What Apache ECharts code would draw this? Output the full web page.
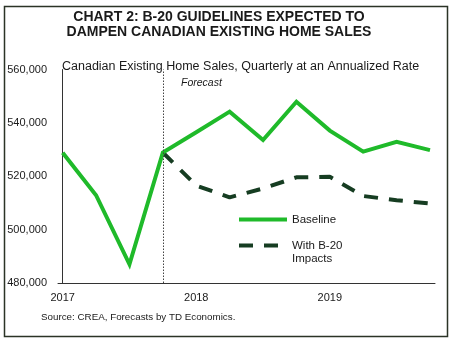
<!DOCTYPE html>
<html>
<head>
<meta charset="utf-8">
<script src="https://cdn.jsdelivr.net/npm/echarts@6/dist/echarts.min.js"></script>
<style>html,body{margin:0;padding:0;background:#fff;}#c{width:450px;height:339px;}</style>
</head>
<body>
<div id="c"></div>
<script>
const quarters = ['2017 Q1','2017 Q2','2017 Q3','2017 Q4','2018 Q1','2018 Q2','2018 Q3','2018 Q4','2019 Q1','2019 Q2','2019 Q3','2019 Q4'];
const baseline = [528800, 512900, 487000, 528900, 536500, 544200, 533600, 547900, 537100, 529200, 532900, 529800];
const withB20 = [null, null, null, 528900, 516500, 512100, 515400, 519600, 519800, 512600, 511000, 509800];
const yearLabelIndex = [0, 4, 8];
const forecastStartIndex = 3;
const yTicks = { min: 480000, max: 560000, step: 20000 };

const font = "Arial";
const toPairs = arr => arr.map((v, i) => [i, v]);

const chart = echarts.init(document.getElementById('c'), null, { renderer: 'canvas' });
chart.setOption({
  animation: false,
  backgroundColor: '#fff',
  title: [
    {
      text: 'CHART 2: B-20 GUIDELINES EXPECTED TO\nDAMPEN CANADIAN EXISTING HOME SALES',
      left: 219, top: 9, padding: 0, textAlign: 'center',
      textStyle: { fontFamily: font, fontSize: 14, fontWeight: 'bold', color: '#1a1a1a', lineHeight: 15.6 }
    },
    {
      text: 'Canadian Existing Home Sales, Quarterly at an Annualized Rate',
      left: 62, top: 60.5, padding: 0,
      textStyle: { fontFamily: font, fontSize: 12.5, fontWeight: 'normal', color: '#1a1a1a' }
    },
    {
      text: 'Source: CREA, Forecasts by TD Economics.',
      left: 41, top: 312.5, padding: 0,
      textStyle: { fontFamily: font, fontSize: 9.8, fontWeight: 'normal', color: '#1a1a1a' }
    }
  ],
  grid: { left: 58, right: 15, top: 69.5, bottom: 56, containLabel: false },
  xAxis: {
    type: 'value', min: -0.14, max: 11.15,
    axisLine: { show: true, onZero: false, lineStyle: { color: '#333', width: 1 } },
    axisTick: { show: false },
    splitLine: { show: false },
    axisLabel: {
      customValues: yearLabelIndex,
      formatter: v => quarters[Math.round(v)].slice(0, 4),
      fontFamily: font, fontSize: 11, color: '#1a1a1a', margin: 9
    }
  },
  yAxis: {
    type: 'value', min: yTicks.min, max: yTicks.max, interval: yTicks.step,
    axisLine: { show: true, lineStyle: { color: '#333', width: 1 } },
    axisTick: { show: false },
    splitLine: { show: false },
    axisLabel: {
      formatter: v => v.toLocaleString('en-US'),
      fontFamily: font, fontSize: 11, color: '#1a1a1a', margin: 11
    }
  },
  legend: {
    orient: 'vertical', left: 237, top: 213, padding: 0,
    itemWidth: 48, itemHeight: 14, itemGap: 0,
    itemStyle: { opacity: 0 },
    lineStyle: { width: 4 },
    data: ['Baseline', 'With B-20 Impacts'],
    formatter: n => n === 'With B-20 Impacts' ? '\nWith B-20\nImpacts' : n,
    textStyle: { fontFamily: font, fontSize: 11.5, color: '#1a1a1a', lineHeight: 13 }
  },
  series: [
    {
      name: 'Baseline', type: 'line', data: toPairs(baseline),
      symbol: 'none', showSymbol: false,
      lineStyle: { color: '#1fba2a', width: 4, join: 'miter' },
      itemStyle: { color: '#1fba2a' },
      z: 3,
      markLine: {
        silent: true, symbol: 'none',
        label: { show: false },
        lineStyle: { color: '#444', width: 1, type: [1.5, 1.5] },
        data: [{ xAxis: forecastStartIndex }]
      }
    },
    {
      name: 'With B-20 Impacts', type: 'line', data: toPairs(withB20),
      symbol: 'none', showSymbol: false, connectNulls: false,
      lineStyle: { color: '#163d22', width: 4, type: [14, 11], cap: 'butt' },
      itemStyle: { color: '#163d22' },
      z: 2
    }
  ],
  graphic: [
    {
      type: 'text', left: 181, top: 78,
      style: { text: 'Forecast', fontFamily: font, fontSize: 10.5, fontStyle: 'italic', fill: '#1a1a1a' }
    },
    {
      type: 'rect', left: 2, top: 4, z: -1,
      shape: { width: 443, height: 330 },
      style: { fill: 'none', stroke: '#2b3326', lineWidth: 1.5 }
    }
  ]
});
</script>
</body>
</html>
